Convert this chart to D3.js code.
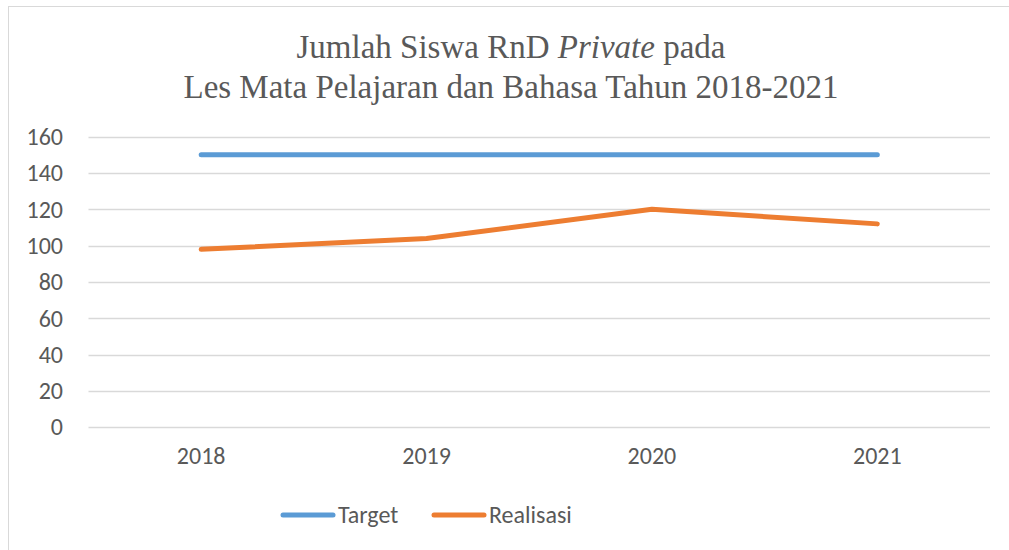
<!DOCTYPE html>
<html>
<head>
<meta charset="utf-8">
<script src="https://cdn.jsdelivr.net/npm/d3@7"></script>
<style>
  body { margin: 0; background: #fff; }
  svg { display: block; }
</style>
</head>
<body>
<div id="chart"></div>
<script>
// données
var years = ["2018", "2019", "2020", "2021"];
var target = [150, 150, 150, 150];
var realisasi = [98, 104, 120, 112];
var yTicks = [0, 20, 40, 60, 80, 100, 120, 140, 160];
var seriesNames = ["Target", "Realisasi"];
var seriesColors = ["#5B9BD5", "#ED7D31"];

var width = 1009,
    height = 550;

var svg = d3.select("#chart")
    .append("svg")
    .attr("width", width)
    .attr("height", height);

// cadre gris clair
svg.append("rect")
    .attr("x", 8.5).attr("y", 6.5)
    .attr("width", 1100).attr("height", 600)
    .attr("fill", "none")
    .attr("stroke", "#d9d9d9")
    .attr("stroke-width", 1);

// titre
var title = svg.append("text")
    .attr("text-anchor", "middle")
    .attr("font-family", "'Liberation Serif', 'Times New Roman', serif")
    .attr("font-size", 33)
    .attr("fill", "#595959");
var l1 = title.append("tspan").attr("x", 511).attr("y", 58);
l1.append("tspan").text("Jumlah Siswa RnD ");
l1.append("tspan").attr("font-style", "italic").text("Private");
l1.append("tspan").text(" pada");
title.append("tspan").attr("x", 511).attr("y", 98)
    .text("Les Mata Pelajaran dan Bahasa Tahun 2018-2021");

var plotLeft = 88.5, plotRight = 990;

var x = d3.scaleBand()
    .domain(years)
    .range([plotLeft, plotRight]);

var y = d3.scaleLinear()
    .domain([0, 160])
    .range([427.3, 136.7]);

// grille
svg.append("g")
    .selectAll("line")
    .data(yTicks)
    .join("line")
    .attr("x1", plotLeft).attr("x2", plotRight)
    .attr("y1", function(d) { return Math.round(y(d)) + 0.5; })
    .attr("y2", function(d) { return Math.round(y(d)) + 0.5; })
    .attr("stroke", "#d9d9d9")
    .attr("stroke-width", 1.3);

var labelFont = "Carlito, 'Liberation Sans', 'DejaVu Sans', sans-serif";

// axe y
var yAxis = svg.append("g")
    .attr("transform", "translate(" + 63 + ",0)")
    .call(d3.axisLeft(y).tickValues(yTicks).tickSize(0).tickPadding(0));
yAxis.select(".domain").remove();
yAxis.selectAll("text")
    .attr("font-family", labelFont)
    .attr("font-size", 24)
    .attr("fill", "#595959");

// axe x
var xAxis = svg.append("g")
    .attr("transform", "translate(0," + 447 + ")")
    .call(d3.axisBottom(x).tickSize(0).tickPadding(0));
xAxis.select(".domain").remove();
xAxis.selectAll("text")
    .attr("font-family", labelFont)
    .attr("font-size", 24)
    .attr("fill", "#595959");

var line = d3.line()
    .x(function(d, i) { return x(years[i]) + x.bandwidth() / 2; })
    .y(function(d) { return y(d); });

[target, realisasi].forEach(function(values, i) {
    svg.append("path")
        .datum(values)
        .attr("d", line)
        .attr("fill", "none")
        .attr("stroke", seriesColors[i])
        .attr("stroke-width", 5)
        .attr("stroke-linecap", "round")
        .attr("stroke-linejoin", "round");
});

// légende
var legendX = [283, 434];
var legend = svg.append("g")
    .selectAll("g")
    .data(seriesNames)
    .join("g")
    .attr("transform", function(d, i) { return "translate(" + legendX[i] + ",515)"; });
legend.append("line")
    .attr("x1", 0).attr("x2", 50)
    .attr("stroke", function(d, i) { return seriesColors[i]; })
    .attr("stroke-width", 5)
    .attr("stroke-linecap", "round");
legend.append("text")
    .attr("x", 55)
    .attr("dy", "0.35em")
    .attr("font-family", labelFont)
    .attr("font-size", 24)
    .attr("fill", "#595959")
    .text(function(d) { return d; });
</script>
</body>
</html>
